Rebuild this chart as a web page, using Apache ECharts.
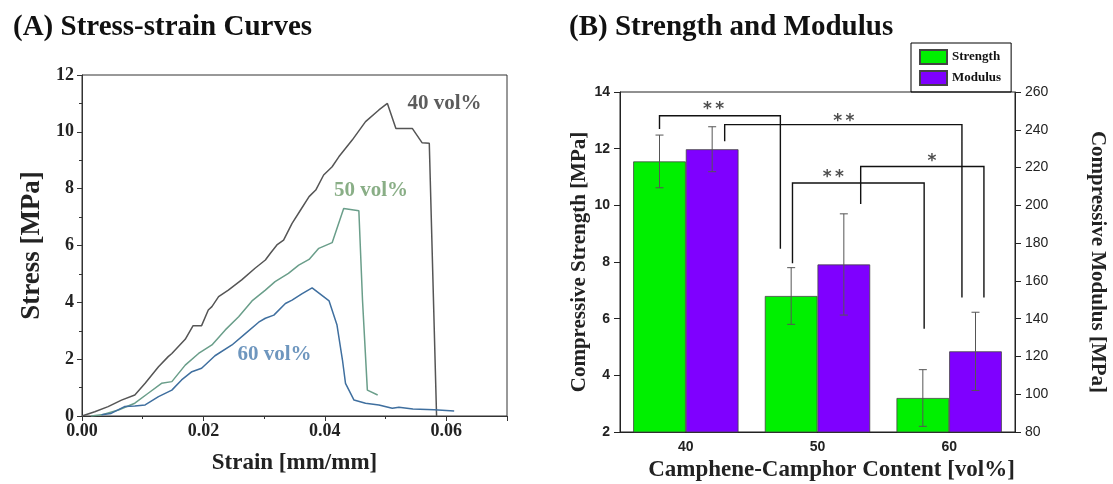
<!DOCTYPE html>
<html><head><meta charset="utf-8">
<script src="https://cdn.jsdelivr.net/npm/echarts@6/dist/echarts.min.js"></script>
<style>html,body{margin:0;padding:0;background:#fff}#c{width:1113px;height:484px}</style>
</head><body><div id="c"></div>
<script>
// ---- Panel A data: [strain, stress]
const curve40 = [[0,0],[0.0021,0.15],[0.0043,0.33],[0.0065,0.56],[0.0087,0.74],[0.0104,1.15],[0.0126,1.73],[0.0142,2.09],[0.0148,2.2],[0.017,2.7],[0.0183,3.18],[0.0197,3.18],[0.0208,3.73],[0.0214,3.85],[0.0225,4.2],[0.0241,4.43],[0.0263,4.79],[0.0285,5.2],[0.0302,5.49],[0.031,5.72],[0.0321,6.02],[0.0332,6.19],[0.0346,6.78],[0.036,7.25],[0.0374,7.72],[0.0385,7.95],[0.0398,8.48],[0.0412,8.77],[0.0423,9.12],[0.0445,9.71],[0.0467,10.36],[0.0489,10.77],[0.0503,11.0],[0.0517,10.12],[0.0544,10.12],[0.056,9.62],[0.0572,9.6],[0.0584,0]];
const curve50 = [[0.0015,0],[0.0032,0.04],[0.006,0.21],[0.0087,0.45],[0.0109,0.8],[0.0131,1.15],[0.0148,1.21],[0.017,1.79],[0.0192,2.2],[0.0214,2.5],[0.0236,3.03],[0.0258,3.49],[0.028,4.05],[0.0302,4.43],[0.0318,4.73],[0.034,5.02],[0.0357,5.31],[0.0374,5.51],[0.039,5.9],[0.0412,6.1],[0.0431,7.3],[0.0456,7.22],[0.0462,4.08],[0.047,0.91],[0.0487,0.74]];
const curve60 = [[0.0032,0.04],[0.0048,0.09],[0.007,0.33],[0.0087,0.35],[0.0104,0.39],[0.0126,0.68],[0.0148,0.91],[0.0164,1.27],[0.0181,1.56],[0.0197,1.68],[0.0219,2.12],[0.0247,2.5],[0.0269,2.9],[0.0291,3.3],[0.0302,3.44],[0.0316,3.55],[0.0335,3.96],[0.0346,4.08],[0.0362,4.3],[0.0379,4.51],[0.0407,4.05],[0.042,3.2],[0.0429,1.97],[0.0434,1.15],[0.0448,0.56],[0.0467,0.45],[0.0489,0.39],[0.0511,0.27],[0.0522,0.31],[0.0545,0.25],[0.058,0.22],[0.0613,0.18]];
const curveLabels = [['40 vol%',0.0597,11.0],['50 vol%',0.0476,7.95],['60 vol%',0.0317,2.15]];
const strainTicks = [0, 0.02, 0.04, 0.06];

// ---- Panel B data
const categories = ['40','50','60'];
const strength = [11.55, 6.8, 3.2];
const strengthErr = [0.93, 1.0, 1.0];
const modulus = [229.7, 168.7, 122.7];
const modulusErr = [11.9, 26.8, 20.7];
// significance brackets: [xLeft, yLeftBottom, yTop, xRight, yRightBottom] (x in category-band units, y in strength units)
const brackets = [[0.30,12.69,13.16,1.218,8.47],[0.795,12.26,12.85,2.597,6.75],[1.31,7.96,10.79,2.31,5.64],[1.828,10.05,11.37,2.764,6.75]];
const bracketMarks = [['*\u2009*',0.71,13.38],['*\u2009*',1.70,12.95],['*\u2009*',1.62,10.97],['*',2.37,11.55]];

const serif = 'Liberation Serif';
const sans = 'Liberation Sans';
const barOffset = 0.2;
const clear = 'rgba(0,0,0,0)';

const strengthErrData = strength.map((v,i)=>[i+0.5-barOffset, v-strengthErr[i], v+strengthErr[i]]);
const modulusErrData = modulus.map((v,i)=>[i+0.5+barOffset, v-modulusErr[i], v+modulusErr[i]]);

function errRender(params, api){
  const x = api.value(0), lo = api.value(1), hi = api.value(2);
  const p1 = api.coord([x, lo]), p2 = api.coord([x, hi]);
  const w = 4, style = {stroke:'#555', lineWidth:1};
  return {type:'group', children:[
    {type:'line', shape:{x1:p1[0],y1:p1[1],x2:p2[0],y2:p2[1]}, style},
    {type:'line', shape:{x1:p1[0]-w,y1:p1[1],x2:p1[0]+w,y2:p1[1]}, style},
    {type:'line', shape:{x1:p2[0]-w,y1:p2[1],x2:p2[0]+w,y2:p2[1]}, style}
  ]};
}
function bracketRender(params, api){
  const a = api.coord([api.value(0), api.value(1)]);
  const b = api.coord([api.value(0), api.value(2)]);
  const c = api.coord([api.value(3), api.value(2)]);
  const d = api.coord([api.value(3), api.value(4)]);
  return {type:'polyline', shape:{points:[a,b,c,d]}, style:{stroke:'#111', lineWidth:1.4, fill:null}};
}

const chart = echarts.init(document.getElementById('c'));
chart.setOption({
  animation:false,
  backgroundColor:'#fff',
  title:[
    {text:'(A) Stress-strain Curves', left:8, top:8, textStyle:{fontFamily:serif, fontWeight:'bold', fontSize:29, color:'#111'}},
    {text:'(B) Strength and Modulus', left:564, top:8, textStyle:{fontFamily:serif, fontWeight:'bold', fontSize:29, color:'#111'}}
  ],
  legend:{
    data:['Strength','Modulus'], orient:'vertical', left:911, top:43,
    borderColor:'#000', borderWidth:1, padding:[6,10,6,8], itemGap:5,
    itemWidth:27, itemHeight:14, icon:'rect',
    textStyle:{fontFamily:serif, fontWeight:'bold', fontSize:13, color:'#111'}
  },
  grid:[
    {left:82, top:75, right:606, bottom:68, show:true, borderColor:'#333', borderWidth:1, containLabel:false, outerBoundsMode:'none'},
    {left:620, top:92, right:98, bottom:52, show:true, borderColor:'#222', borderWidth:1, containLabel:false, outerBoundsMode:'none'}
  ],
  xAxis:[
    {gridIndex:0, type:'value', min:0, max:0.07, interval:0.02,
     name:'Strain [mm/mm]', nameLocation:'middle', nameGap:36,
     nameTextStyle:{fontFamily:serif, fontWeight:'bold', fontSize:23, color:'#222'},
     axisLine:{lineStyle:{color:'#333'}}, axisTick:{length:5, lineStyle:{color:'#333'}},
     minorTick:{show:true, splitNumber:2, length:3, lineStyle:{color:'#333'}},
     splitLine:{show:false},
     axisLabel:{fontFamily:serif, fontWeight:'bold', fontSize:18, color:'#222', margin:6,
       showMaxLabel:false, formatter:v=>strainTicks.some(t=>Math.abs(t-v)<1e-9)?v.toFixed(2):''}},
    {gridIndex:1, type:'category', data:categories,
     name:'Camphene-Camphor Content [vol%]', nameLocation:'middle', nameGap:24,
     nameTextStyle:{fontFamily:serif, fontWeight:'bold', fontSize:23, color:'#222', padding:[0,0,0,28]},
     axisLine:{lineStyle:{color:'#222'}}, axisTick:{alignWithLabel:true, length:5, lineStyle:{color:'#222'}},
     axisLabel:{fontFamily:sans, fontWeight:'bold', fontSize:14, color:'#222', margin:8}},
    {gridIndex:1, type:'value', min:0, max:3, show:false}
  ],
  yAxis:[
    {gridIndex:0, type:'value', min:0, max:12, interval:2,
     name:'Stress [MPa]', nameLocation:'middle', nameGap:36,
     nameTextStyle:{fontFamily:serif, fontWeight:'bold', fontSize:27, color:'#222'},
     axisLine:{show:true, lineStyle:{color:'#333'}}, axisTick:{show:true, length:5, lineStyle:{color:'#333'}},
     minorTick:{show:true, splitNumber:2, length:3, lineStyle:{color:'#333'}},
     splitLine:{show:false},
     axisLabel:{fontFamily:serif, fontWeight:'bold', fontSize:18, color:'#222', margin:8}},
    {gridIndex:1, type:'value', min:2, max:14, interval:2,
     name:'Compressive Strength [MPa]', nameLocation:'middle', nameGap:30,
     nameTextStyle:{fontFamily:serif, fontWeight:'bold', fontSize:21, color:'#222'},
     axisLine:{show:true, lineStyle:{color:'#222'}}, axisTick:{show:true, length:6, lineStyle:{color:'#222'}},
     splitLine:{show:false},
     axisLabel:{fontFamily:sans, fontWeight:'bold', fontSize:14, color:'#222', margin:10}},
    {gridIndex:1, type:'value', position:'right', min:80, max:260, interval:20,
     name:'Compressive Modulus [MPa]', nameLocation:'middle', nameGap:72, nameRotate:-90,
     nameTextStyle:{fontFamily:serif, fontWeight:'bold', fontSize:21, color:'#222'},
     axisLine:{show:true, lineStyle:{color:'#222'}}, axisTick:{show:true, length:6, lineStyle:{color:'#222'}},
     splitLine:{show:false},
     axisLabel:{fontFamily:sans, fontSize:14, color:'#222', margin:10}}
  ],
  series:[
    {type:'line', name:'40 vol%', xAxisIndex:0, yAxisIndex:0, data:curve40, showSymbol:false, symbol:'none', lineStyle:{color:'#555', width:1.5}},
    {type:'line', name:'50 vol%', xAxisIndex:0, yAxisIndex:0, data:curve50, showSymbol:false, symbol:'none', lineStyle:{color:'#6a9e8a', width:1.5}},
    {type:'line', name:'60 vol%', xAxisIndex:0, yAxisIndex:0, data:curve60, showSymbol:false, symbol:'none', lineStyle:{color:'#3f6f9f', width:1.5}},
    {type:'scatter', xAxisIndex:0, yAxisIndex:0, symbolSize:1, itemStyle:{color:clear}, z:10,
     data:curveLabels.map((d,i)=>({value:[d[1],d[2]], name:d[0],
       label:{show:true, position:'inside', formatter:d[0], fontFamily:serif, fontWeight:'bold', fontSize:21,
         color:['#333','#6b9a68','#4a7cae'][i]}}))},
    {type:'bar', name:'Strength', xAxisIndex:1, yAxisIndex:1, data:strength, barGap:'0%', barCategoryGap:'20%', clip:true,
     itemStyle:{color:'#00f000', borderColor:'#444', borderWidth:0.8}},
    {type:'bar', name:'Modulus', xAxisIndex:1, yAxisIndex:2, data:modulus, barGap:'0%', barCategoryGap:'20%', clip:true,
     itemStyle:{color:'#7f00ff', borderColor:'#444', borderWidth:0.8}},
    {type:'custom', xAxisIndex:2, yAxisIndex:1, data:strengthErrData, renderItem:errRender, encode:{x:0, y:[1,2]}, z:5},
    {type:'custom', xAxisIndex:2, yAxisIndex:2, data:modulusErrData, renderItem:errRender, encode:{x:0, y:[1,2]}, z:5},
    {type:'custom', xAxisIndex:2, yAxisIndex:1, data:brackets, renderItem:bracketRender, encode:{x:[0,3], y:[1,2,4]}, z:6},
    {type:'scatter', xAxisIndex:2, yAxisIndex:1, symbolSize:1, itemStyle:{color:clear}, z:10,
     data:bracketMarks.map(d=>({value:[d[1],d[2]], label:{show:true, position:'inside', formatter:d[0],
       fontFamily:'DejaVu Sans', fontWeight:'bold', fontSize:17, color:'#222'}}))}
  ]
});
</script></body></html>
